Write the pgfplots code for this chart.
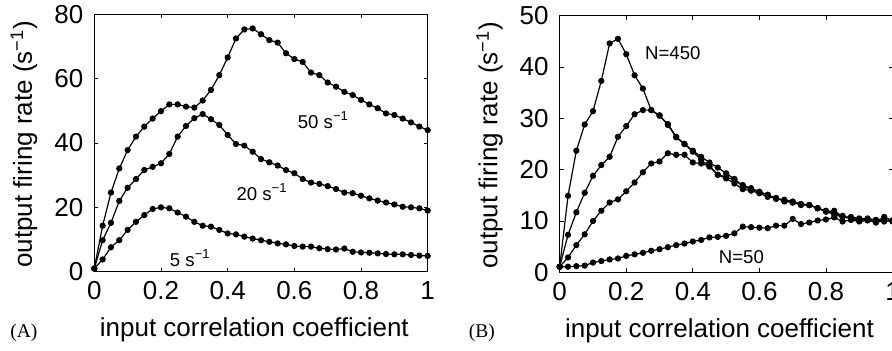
\documentclass[border=0pt]{standalone}
\usepackage{pgfplots}
\usepackage{pgfplotstable}
\pgfplotsset{compat=1.18}
\usepackage{fontspec}
\setmainfont{Liberation Sans}
\newfontfamily\timesfont{Liberation Serif}

\pgfplotstableread{
x a5 a20 a50
0 1.0 1.0 1.0
0.025 3.8 9.8 14.3
0.05 7.6 15.2 24.6
0.075 9.8 22.0 32.1
0.1 13.0 26.1 37.8
0.125 15.5 28.8 42.0
0.15 17.6 31.6 45.1
0.175 19.5 32.6 47.6
0.2 20.0 33.7 49.9
0.225 19.7 36.6 52.0
0.25 18.4 42.0 52.0
0.275 17.1 45.3 51.3
0.3 15.5 47.7 51.0
0.325 14.3 49.0 53.2
0.35 14.0 47.4 56.5
0.375 13.0 45.6 61.1
0.4 11.9 42.5 66.6
0.425 11.6 39.7 72.5
0.45 10.9 39.2 75.3
0.475 10.3 37.3 75.6
0.5 9.8 35.0 73.8
0.525 9.3 34.0 72.0
0.55 8.8 33.0 71.2
0.575 8.5 31.6 67.9
0.6 8.0 30.6 66.1
0.625 7.8 28.8 65.2
0.65 7.8 27.7 61.9
0.675 7.3 27.3 61.1
0.7 7.0 26.6 58.8
0.725 6.9 25.7 57.5
0.75 7.2 24.6 55.9
0.775 6.2 24.4 54.9
0.8 6.0 23.6 53.4
0.825 5.9 22.8 52.0
0.85 5.7 22.1 50.8
0.875 5.5 21.5 49.2
0.9 5.4 20.9 48.7
0.925 5.4 20.2 47.6
0.95 5.2 20.0 46.4
0.975 5.0 19.7 45.1
1 4.9 19.0 44.0
}\tableA

\pgfplotstableread{
x n450 nb nc n50
0 1.1 1.1 1.1 1.1
0.025 14.9 7.3 2.9 1.1
0.05 23.7 11.7 5.3 1.2
0.075 28.8 15.5 7.4 1.3
0.1 31.4 18.8 10.0 1.9
0.125 37.3 20.9 12.0 2.2
0.15 44.6 22.5 13.6 2.5
0.175 45.5 26.4 14.2 2.7
0.2 42.5 28.5 15.8 3.2
0.225 38.4 30.8 17.5 3.5
0.25 35.8 31.6 19.5 3.8
0.275 31.6 31.6 21.2 4.2
0.3 30.6 30.5 21.6 4.5
0.325 28.7 28.9 23.2 4.9
0.35 26.3 26.4 22.9 5.3
0.375 25.0 25.0 22.9 5.6
0.4 23.7 23.5 21.4 6.0
0.425 22.5 21.9 21.2 6.3
0.45 21.4 20.6 20.7 6.8
0.475 20.4 19.0 19.0 6.9
0.5 19.3 18.6 18.3 7.1
0.525 18.2 18.0 17.3 7.6
0.55 16.7 17.0 16.2 8.9
0.575 16.2 16.4 15.9 8.8
0.6 15.6 15.7 15.4 8.7
0.625 15.1 15.1 14.7 8.6
0.65 14.4 14.3 14.5 9.1
0.675 14.1 14.1 13.8 9.1
0.7 13.6 13.8 13.6 10.4
0.725 13.3 13.3 13.1 9.4
0.75 13.1 13.1 13.1 9.7
0.775 12.5 12.5 12.5 10.1
0.8 11.8 12.0 11.9 10.3
0.825 12.0 11.5 11.2 10.7
0.85 10.8 11.0 10.8 9.9
0.875 10.8 10.5 10.5 10.2
0.9 10.5 10.2 10.3 9.9
0.925 10.5 10.2 10.3 10.1
0.95 10.2 9.7 10.2 9.9
0.975 10.2 10.1 9.9 10.8
1 10.1 9.9 10.1 10.1
}\tableB

\tikzset{note/.style={font=\fontsize{9.3}{11}\selectfont, inner sep=0pt}}

\pgfplotsset{
  pl/.style={black, solid, line width=0.6pt, mark=*, mark size=1.25pt, mark options={solid, fill=black}},
  panel/.style={
    scale only axis,
    anchor=south west,
    xmin=0, xmax=1,
    ymin=0,
    clip=false,
    axis line style={line width=0.5pt},
    tick align=inside,
    xtick pos=both, ytick pos=both,
    major tick length=2pt,
    tick style={line width=0.4pt, black},
    xtick={0,0.2,0.4,0.6,0.8,1},
    xticklabels={0,0.2,0.4,0.6,0.8,1},
    /pgf/number format/assume math mode=true,
    tick label style={font=\fontsize{13}{15}\selectfont},
    xticklabel style={yshift=-1.5pt},
    yticklabel style={xshift=-2pt},
    label style={font=\fontsize{13}{15}\selectfont},
    xlabel={input correlation coefficient},
    ylabel={output firing rate (s\textsuperscript{\char"2212 1})},
    xlabel style={at={(axis description cs:0.48,0)}, anchor=base, yshift=-32.6pt},
    ylabel style={at={(axis description cs:-0.187,0.495)}, anchor=base, rotate=0},
  },
}

\begin{document}
\begin{tikzpicture}
\begin{axis}[panel, at={(47.15pt,39.15pt)}, width=166.7pt, height=128.7pt,
  ymax=80, ytick={0,20,40,60,80}]
  \addplot[pl] table[x=x, y=a5] {\tableA};
  \addplot[pl] table[x=x, y=a20] {\tableA};
  \addplot[pl] table[x=x, y=a50] {\tableA};
  \node[note] at (axis cs:0.687,47.1) {50 s\textsuperscript{\char"2212 1}};
  \node[note] at (axis cs:0.503,24.8) {20 s\textsuperscript{\char"2212 1}};
  \node[note] at (axis cs:0.288,4.3) {5 s\textsuperscript{\char"2212 1}};
\end{axis}
\begin{axis}[panel, at={(279.85pt,38.85pt)}, width=166.4pt, height=128.3pt,
  ymax=50, ytick={0,10,20,30,40,50}]
  \addplot[pl] table[x=x, y=n450] {\tableB};
  \addplot[pl] table[x=x, y=nb] {\tableB};
  \addplot[pl] table[x=x, y=nc] {\tableB};
  \addplot[pl] table[x=x, y=n50] {\tableB};
  \node[note] at (axis cs:0.34,42.7) {N=450};
  \node[note] at (axis cs:0.546,3.0) {N=50};
\end{axis}
\node[anchor=base west, inner sep=0pt, font=\timesfont\fontsize{9.75}{11}\selectfont] at (5pt,6.5pt) {(A)};
\node[anchor=base west, inner sep=0pt, font=\timesfont\fontsize{9.75}{11}\selectfont] at (234.2pt,6.5pt) {(B)};
\pgfresetboundingbox
\path (0,0) rectangle (446pt,175pt);
\end{tikzpicture}
\end{document}
